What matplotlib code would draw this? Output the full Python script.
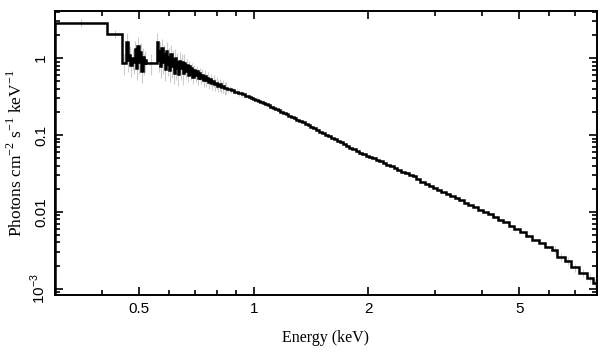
import numpy as np
import matplotlib.pyplot as plt
from matplotlib.ticker import FixedLocator, LogLocator, NullFormatter

plt.rcParams["mathtext.fontset"] = "custom"
plt.rcParams["mathtext.rm"] = "Liberation Serif"
plt.rcParams["mathtext.sf"] = "Liberation Sans"

# bin lower edges (keV) and flux (photons cm^-2 s^-1 keV^-1)
e_lo = [
    0.300, 0.412,
    0.451, 0.462, 0.466, 0.470, 0.474, 0.478, 0.482, 0.486, 0.490, 0.494,
    0.498, 0.502, 0.506, 0.510, 0.514, 0.517, 0.520,
    0.556, 0.560, 0.564, 0.568, 0.572, 0.576, 0.580, 0.584, 0.588, 0.592,
    0.596, 0.600, 0.604, 0.608, 0.612, 0.616, 0.620, 0.624, 0.628, 0.632,
    0.636, 0.640, 0.645, 0.650, 0.655, 0.660, 0.665, 0.670, 0.675, 0.680,
    0.685, 0.690, 0.695, 0.700, 0.706, 0.712, 0.718, 0.724, 0.730, 0.736,
    0.742, 0.748, 0.754, 0.760, 0.767, 0.774, 0.781, 0.788, 0.795, 0.802,
    0.810, 0.818, 0.826, 0.834, 0.842, 0.851, 0.860, 0.869, 0.878, 0.888,
    0.898, 0.908, 0.918, 0.929, 0.940, 0.951, 0.962, 0.974, 0.986, 0.998,
    1.010, 1.025, 1.040, 1.056, 1.072, 1.088, 1.105, 1.122, 1.140, 1.158,
    1.176, 1.195, 1.214, 1.234, 1.254, 1.275, 1.296, 1.318, 1.340, 1.363,
    1.386, 1.410, 1.435, 1.460, 1.486, 1.512, 1.539, 1.567, 1.596, 1.625,
    1.655, 1.686, 1.718, 1.751, 1.785, 1.820, 1.856, 1.893, 1.931, 1.970,
    2.010, 2.052, 2.095, 2.140, 2.186, 2.234, 2.283, 2.334, 2.387, 2.442,
    2.499, 2.558, 2.619, 2.682, 2.748, 2.816, 2.887, 2.961, 3.038, 3.118,
    3.201, 3.288, 3.378, 3.472, 3.570, 3.672, 3.779, 3.891, 4.008, 4.131,
    4.260, 4.395, 4.537, 4.686, 4.843, 5.020, 5.200, 5.400, 5.620, 5.850,
    6.100, 6.300, 6.600, 6.850, 7.200, 7.550, 7.800,
]
e_hi_last = 8.0

flux = [
    2.85, 2.05,
    0.86, 1.62, 0.95, 1.10, 0.82, 1.00, 0.88, 1.30, 0.75, 1.45,
    0.90, 1.20, 0.68, 1.05, 0.86, 0.95, 0.86,
    1.62, 0.95, 1.25, 0.80, 1.35, 0.90, 1.15, 0.72, 1.25, 0.85,
    1.05, 0.70, 1.15, 0.80, 0.98, 0.65, 1.00, 0.75, 0.90, 0.62,
    0.92, 0.74, 0.88, 0.64, 0.86, 0.68, 0.82, 0.60, 0.78, 0.63,
    0.74, 0.57, 0.70, 0.60, 0.68, 0.55, 0.64, 0.56, 0.61, 0.52,
    0.59, 0.52, 0.56, 0.49, 0.53, 0.47, 0.51, 0.46, 0.48, 0.44,
    0.46, 0.425, 0.435, 0.41, 0.415, 0.395, 0.40, 0.38, 0.382, 0.365,
    0.368, 0.35, 0.352, 0.338, 0.34, 0.325, 0.322, 0.312, 0.305, 0.295,
    0.288, 0.279, 0.270, 0.260, 0.252, 0.243, 0.234, 0.227, 0.219, 0.211,
    0.201, 0.194, 0.186, 0.179, 0.172, 0.165, 0.158, 0.152, 0.146, 0.140,
    0.134, 0.128, 0.122, 0.117, 0.111, 0.106, 0.101, 0.096, 0.092, 0.088,
    0.084, 0.080, 0.076, 0.072, 0.068, 0.065, 0.062, 0.059, 0.056, 0.054,
    0.052, 0.050, 0.048, 0.046, 0.0435, 0.041, 0.039, 0.037, 0.035, 0.0335,
    0.032, 0.0305, 0.029, 0.0265, 0.0245, 0.0232, 0.0220, 0.0205, 0.0194, 0.0183,
    0.0172, 0.0161, 0.0151, 0.0141, 0.0132, 0.0123, 0.0115, 0.0107, 0.0100, 0.0093,
    0.0086, 0.0079, 0.0073, 0.0066, 0.0060, 0.0054, 0.0048, 0.0043, 0.0039, 0.0035,
    0.0032, 0.0026, 0.0023, 0.0019, 0.0016, 0.0014, 0.0012,
]

# rough relative error per energy range (lo, hi, fraction)
err_ranges = [(0.30, 0.45, 0.12), (0.45, 0.66, 0.30), (0.66, 0.85, 0.18),
              (0.85, 1.2, 0.07), (1.2, 6.0, 0.03), (6.0, 8.0, 0.12)]

x_ticks = [0.5, 1, 2, 5]
x_ticklabels = ["0.5", "1", "2", "5"]
y_ticks = [1e-3, 1e-2, 0.1, 1]
y_ticklabels = [r"10$^{\mathsf{-3}}$", "0.01", "0.1", "1"]

edges = np.array(e_lo + [e_hi_last])
flux = np.array(flux)
centers = np.sqrt(edges[:-1] * edges[1:])
err = np.zeros_like(flux)
for lo, hi, frac in err_ranges:
    m = (centers >= lo) & (centers < hi)
    err[m] = flux[m] * frac

fig = plt.figure(figsize=(6.09, 3.57), dpi=100)
ax = fig.add_axes([0.0903, 0.1737, 0.8897, 0.7953])

ax.vlines(centers, flux - err, flux + err, color="#cccccc", lw=0.8, zorder=1)
ax.stairs(flux, edges, color="black", lw=1.8, zorder=2)

ax.set_xscale("log")
ax.set_yscale("log")
ax.set_xlim(0.3, 8.0)
ax.set_ylim(8.3e-4, 4.1)

ax.xaxis.set_major_locator(FixedLocator(x_ticks))
ax.set_xticklabels(x_ticklabels)
ax.xaxis.set_minor_locator(FixedLocator([0.3, 0.4, 0.6, 0.7, 0.8, 0.9, 3, 4, 6, 7, 8]))
ax.xaxis.set_minor_formatter(NullFormatter())
ax.yaxis.set_major_locator(FixedLocator(y_ticks))
ax.set_yticklabels(y_ticklabels, rotation=90, va="center")
ax.yaxis.set_minor_locator(LogLocator(base=10, subs=np.arange(2, 10)))
ax.yaxis.set_minor_formatter(NullFormatter())

for lab in ax.get_xticklabels() + ax.get_yticklabels():
    lab.set_family("Liberation Sans")
    lab.set_fontsize(11)

ax.tick_params(which="both", direction="in", top=True, right=True, width=1.2)
ax.tick_params(which="major", length=6, pad=5)
ax.tick_params(which="minor", length=3.5)
for s in ax.spines.values():
    s.set_linewidth(1.4)

ax.set_xlabel("Energy (keV)", family="Liberation Serif", fontsize=11.5, labelpad=10)
ax.set_ylabel(r"Photons cm$^{\mathrm{-2}}$ s$^{\mathrm{-1}}$ keV$^{\mathrm{-1}}$",
              family="Liberation Serif", fontsize=12.5, labelpad=2)

fig.savefig("out.png", dpi=100)
